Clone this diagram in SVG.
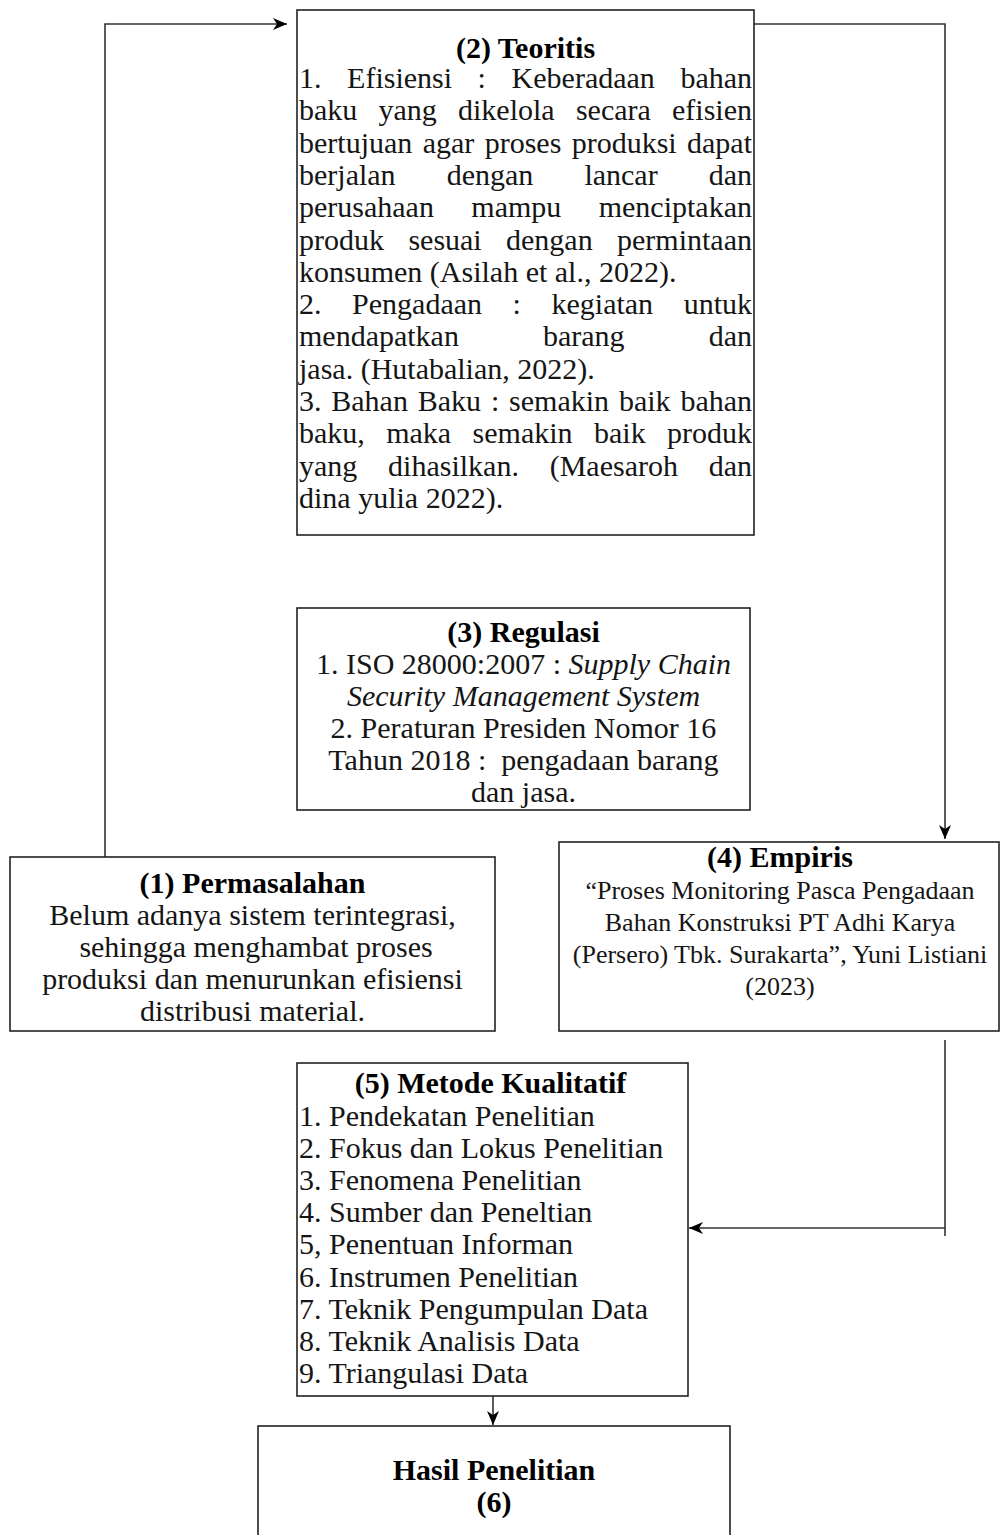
<svg xmlns="http://www.w3.org/2000/svg" width="1000" height="1535" viewBox="0 0 1000 1535">
<style>
.box{fill:#fff;stroke:#222;stroke-width:1.6}
.ln{fill:none;stroke:#333;stroke-width:1.6}
.t{font-family:"Liberation Serif","Times New Roman",serif;font-size:30px;fill:#151515}
.b{font-weight:bold;fill:#000}
.c{text-anchor:middle}
.s{font-size:26px}
.i{font-style:italic}
</style>
<defs>
<marker id="ah" viewBox="0 0 14 12" refX="14" refY="6" markerWidth="14" markerHeight="12" orient="auto" markerUnits="userSpaceOnUse">
<path d="M0,0 L14,6 L0,12 L4,6 z" fill="#000"/>
</marker>
</defs>
<rect width="1000" height="1535" fill="#fff"/>
<g id="connectors">
<path class="ln" d="M105,857 V24 H287" marker-end="url(#ah)"/>
<path class="ln" d="M754,24 H945 V839" marker-end="url(#ah)"/>
<path class="ln" d="M945,1040 V1236"/>
<path class="ln" d="M945,1228 H689" marker-end="url(#ah)"/>
<path class="ln" d="M493,1396 V1425" marker-end="url(#ah)"/>
</g>
<g id="node2">
<rect class="box" x="297" y="10" width="457" height="525"/>
<text class="t b c" x="525.5" y="58">(2) Teoritis</text>
<text class="t" y="88"><tspan x="299">1.</tspan><tspan x="347.1">Efisiensi</tspan><tspan x="477.6">:</tspan><tspan x="511.6">Keberadaan</tspan><tspan x="680.4">bahan</tspan></text>
<text class="t" y="120.3"><tspan x="299">baku</tspan><tspan x="378.5">yang</tspan><tspan x="458">dikelola</tspan><tspan x="575.9">secara</tspan><tspan x="672">efisien</tspan></text>
<text class="t" y="152.6"><tspan x="299">bertujuan</tspan><tspan x="422.7">agar</tspan><tspan x="484.7">proses</tspan><tspan x="571.7">produksi</tspan><tspan x="687">dapat</tspan></text>
<text class="t" y="184.9"><tspan x="299">berjalan</tspan><tspan x="446.7">dengan</tspan><tspan x="584.4">lancar</tspan><tspan x="708.7">dan</tspan></text>
<text class="t" y="217.2"><tspan x="299">perusahaan</tspan><tspan x="471.3">mampu</tspan><tspan x="598.7">menciptakan</tspan></text>
<text class="t" y="249.5"><tspan x="299">produk</tspan><tspan x="408.4">sesuai</tspan><tspan x="506">dengan</tspan><tspan x="617">permintaan</tspan></text>
<text class="t" x="299" y="281.8">konsumen (Asilah et al., 2022).</text>
<text class="t" y="314.1"><tspan x="299">2.</tspan><tspan x="352.1">Pengadaan</tspan><tspan x="512.6">:</tspan><tspan x="551.5">kegiatan</tspan><tspan x="683.7">untuk</tspan></text>
<text class="t" y="346.4"><tspan x="299">mendapatkan</tspan><tspan x="543">barang</tspan><tspan x="708.7">dan</tspan></text>
<text class="t" x="299" y="378.7">jasa. (Hutabalian, 2022).</text>
<text class="t" y="411"><tspan x="299">3.</tspan><tspan x="331.3">Bahan</tspan><tspan x="417.8">Baku</tspan><tspan x="490.9">:</tspan><tspan x="509.1">semakin</tspan><tspan x="618.9">baik</tspan><tspan x="680.4">bahan</tspan></text>
<text class="t" y="443.3"><tspan x="299">baku,</tspan><tspan x="386.2">maka</tspan><tspan x="472.6">semakin</tspan><tspan x="594">baik</tspan><tspan x="667">produk</tspan></text>
<text class="t" y="475.6"><tspan x="299">yang</tspan><tspan x="388.1">dihasilkan.</tspan><tspan x="549.7">(Maesaroh</tspan><tspan x="708.7">dan</tspan></text>
<text class="t" x="299" y="507.9">dina yulia 2022).</text>
</g>
<g id="node3">
<rect class="box" x="297" y="608" width="453" height="202"/>
<text class="t b c" x="523.5" y="642">(3) Regulasi</text>
<text class="t c" x="523.5" y="674">1. ISO 28000:2007 : <tspan class="i">Supply Chain</tspan></text>
<text class="t c i" x="523.5" y="706">Security Management System</text>
<text class="t c" x="523.5" y="738">2. Peraturan Presiden Nomor 16</text>
<text class="t c" x="523.5" y="770" xml:space="preserve">Tahun 2018 :  pengadaan barang</text>
<text class="t c" x="523.5" y="802">dan jasa.</text>
</g>
<g id="node1">
<rect class="box" x="10" y="857" width="485" height="174"/>
<text class="t b c" x="252.5" y="893">(1) Permasalahan</text>
<text class="t c" x="252.5" y="925">Belum adanya sistem terintegrasi,</text>
<text class="t c" x="256" y="957">sehingga menghambat proses</text>
<text class="t c" x="252.5" y="989">produksi dan menurunkan efisiensi</text>
<text class="t c" x="252.5" y="1021">distribusi material.</text>
</g>
<g id="node4">
<rect class="box" x="559" y="842" width="440" height="189"/>
<text class="t b c" x="780" y="867">(4) Empiris</text>
<text class="t s c" x="780" y="899">“Proses Monitoring Pasca Pengadaan</text>
<text class="t s c" x="780" y="931">Bahan Konstruksi PT Adhi Karya</text>
<text class="t s c" x="780" y="963">(Persero) Tbk. Surakarta”, Yuni Listiani</text>
<text class="t s c" x="780" y="995">(2023)</text>
</g>
<g id="node5">
<rect class="box" x="297" y="1063" width="391" height="333"/>
<text class="t b c" x="490.5" y="1093">(5) Metode Kualitatif</text>
<text class="t" x="299" y="1126">1. Pendekatan Penelitian</text>
<text class="t" x="299" y="1158.1">2. Fokus dan Lokus Penelitian</text>
<text class="t" x="299" y="1190.2">3. Fenomena Penelitian</text>
<text class="t" x="299" y="1222.3">4. Sumber dan Peneltian</text>
<text class="t" x="299" y="1254.4">5, Penentuan Informan</text>
<text class="t" x="299" y="1286.5">6. Instrumen Penelitian</text>
<text class="t" x="299" y="1318.6">7. Teknik Pengumpulan Data</text>
<text class="t" x="299" y="1350.7">8. Teknik Analisis Data</text>
<text class="t" x="299" y="1382.8">9. Triangulasi Data</text>
</g>
<g id="node6">
<rect class="box" x="258" y="1426" width="472" height="120"/>
<text class="t b c" x="494" y="1480">Hasil Penelitian</text>
<text class="t b c" x="494" y="1512">(6)</text>
</g>
</svg>
